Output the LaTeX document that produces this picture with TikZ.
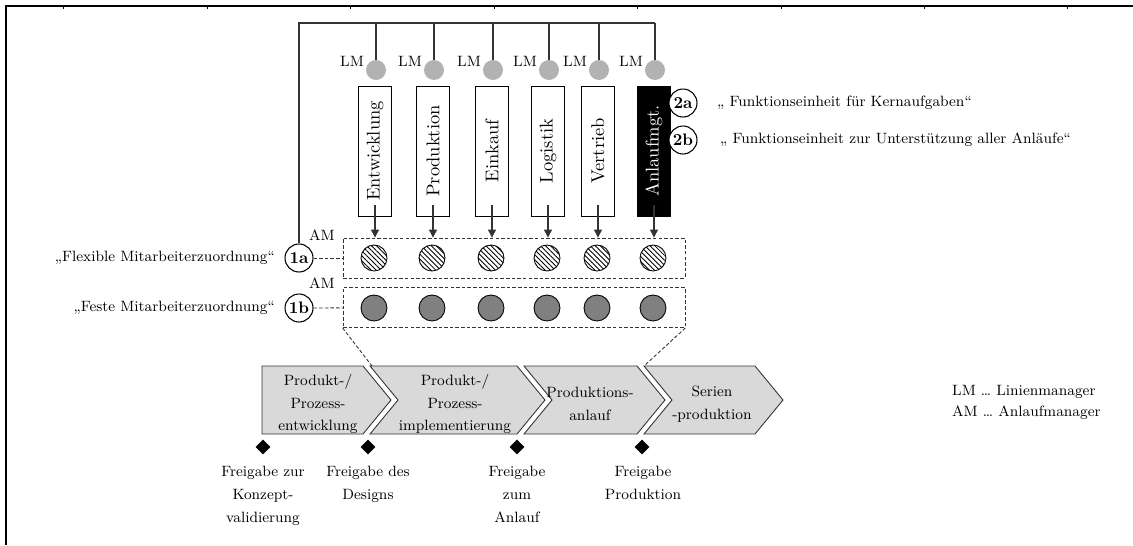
\documentclass[tikz,border=0pt]{standalone}
\usepackage{fontspec}
\usepackage{graphicx}
\usepackage{tikz}
\usetikzlibrary{arrows.meta,patterns.meta,shapes.geometric}

\begin{document}
\begin{tikzpicture}[x=0.02cm,y=-0.02cm,
  font=\fontsize{8.5}{13}\selectfont,
  wire/.style={draw=black!80, line width=0.6pt},
  dashline/.style={draw=black!80, line width=0.5pt, dash pattern=on 2pt off 1.2pt},
  lmdot/.style={circle, fill=black!30, inner sep=0, minimum size=0.4cm},
  unitbox/.style={draw, line width=0.5pt, inner sep=0, minimum width=0.66cm, minimum height=2.6cm, font=\fontsize{10.5}{13}\selectfont},
  numtag/.style={circle, draw, line width=0.6pt, fill=white, inner sep=0, minimum size=0.56cm, font=\fontsize{9.5}{13}\selectfont\bfseries},
  flexdot/.style={circle, draw, line width=0.5pt, inner sep=0, minimum size=0.52cm, pattern={Lines[angle=-45,distance=2pt,line width=0.5pt]}},
  fixdot/.style={circle, draw, line width=0.5pt, inner sep=0, minimum size=0.52cm, fill=black!50},
  pool/.style={dashline, inner sep=0, minimum width=6.84cm, minimum height=0.8cm},
  phasebox/.style={draw=black!80, line width=0.5pt, fill=black!15},
  gate/.style={diamond, fill=black, inner sep=0, minimum size=0.3cm},
  gatetext/.style={anchor=north, align=center}
]
\useasboundingbox (0,0) rectangle (1133,545);
\draw[line width=1.2pt] (6,545) -- (6,6) -- (1133,6);
\foreach \t in {63,207,350,494,637,781,924,1067}
  \draw[line width=0.4pt] (\t,6) -- (\t,9);

\node[pool] (flex) at (514,258) {};
\node[pool] (fix) at (514,307.5) {};

\coordinate (bus) at (655,23);
\node[numtag] (z1a) at (299,258) {1a};
\node[numtag] (z1b) at (299,308) {1b};
\draw[wire] (z1a) |- (bus);

\foreach \n/\x/\t in {1/375/Entwicklung, 2/433/Produktion, 3/492/Einkauf, 4/548/Logistik, 5/598/Vertrieb}
  \node[unitbox] (f\n) at (\x,151) {\rotatebox{90}{\t}};
\node[unitbox, fill=black, text=white] (f6) at (654,151) {\rotatebox{90}{Anlaufmgt.}};

\foreach \n/\x in {1/375, 2/433, 3/492, 4/548, 5/598, 6/654} {
  \node[lmdot] (lm\n) at (\x+1,70) {};
  \draw[wire] (lm\n) -- (lm\n |- bus);
  \node (ll\n) at (\x-23,61) {LM};
  \draw[wire, -{Triangle[length=4.5pt,width=4.5pt]}, shorten <=-0.22cm] (f\n) -- (f\n |- flex.north);
  \node[flexdot] (h\n) at (\x-1,258) {};
  \node[fixdot] (g\n) at (\x-1,308) {};
}

\draw[dashline] (z1a) -- (flex);
\draw[dashline] (z1b) -- (fix);
\node (am1) at (322,235) {AM};
\node (am2) at (322,283) {AM};
\node[anchor=east] (lflex) at (281,258) {„Flexible Mitarbeiterzuordnung“};
\node[anchor=east] (lfix) at (281,308) {„Feste Mitarbeiterzuordnung“};

\node[numtag] (z2a) at (683,103) {2a};
\node[numtag] (z2b) at (683,140) {2b};
\node[anchor=west] (t2a) at (711,103) {„ Funktionseinheit für Kernaufgaben“};
\node[anchor=west] (t2b) at (714,140) {„ Funktionseinheit zur Unterstützung aller Anläufe“};

\draw[phasebox] (262,366) -- (363,366) -- (391,400) -- (363,434) -- (262,434) -- cycle;
\draw[phasebox] (370,366) -- (517,366) -- (545,400) -- (517,434) -- (370,434) -- (398,400) -- cycle;
\draw[phasebox] (524,366) -- (637,366) -- (665,400) -- (637,434) -- (524,434) -- (552,400) -- cycle;
\draw[phasebox] (644,366) -- (755,366) -- (783,400) -- (755,434) -- (644,434) -- (672,400) -- cycle;
\node[align=center] (p1) at (318,404) {Produkt-/\\Prozess-\\entwicklung};
\node[align=center] (p2) at (455,404) {Produkt-/\\Prozess-\\implementierung};
\node[align=center] (p3) at (590,404) {Produktions-\\anlauf};
\node[align=center] (p4) at (712,404) {Serien\\-produktion};

\coordinate (gl) at (372,366);
\coordinate (gr) at (644,366);
\draw[dashline] (fix.south west) -- (gl);
\draw[dashline] (fix.south east) -- (gr);

\foreach \n/\x in {1/263, 2/368, 3/517, 4/642}
  \node[gate] (d\n) at (\x,447) {};
\node[gatetext] (r1) at (263,460) {Freigabe zur\\Konzept-\\validierung};
\node[gatetext] (r2) at (368,460) {Freigabe des\\Designs};
\node[gatetext] (r3) at (517,460) {Freigabe\\zum\\Anlauf};
\node[gatetext] (r4) at (643,460) {Freigabe\\Produktion};

\node[anchor=west] (leg1) at (946,392) {LM \dots\ Linienmanager};
\node[anchor=west] (leg2) at (946,413) {AM \dots\ Anlaufmanager};
\end{tikzpicture}
\end{document}
